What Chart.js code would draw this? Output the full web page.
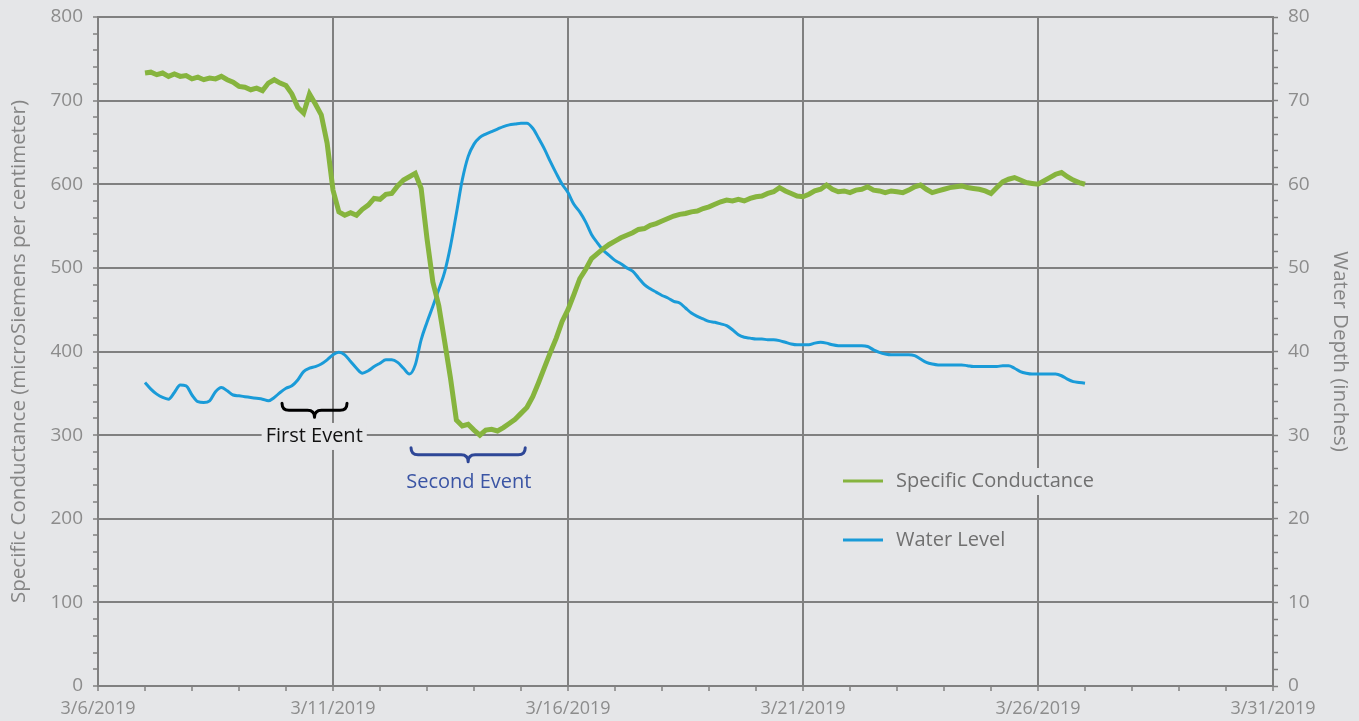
<!DOCTYPE html>
<html>
<head>
<meta charset="utf-8">
<title>Specific Conductance and Water Level, March 2019</title>
<script src="https://cdn.jsdelivr.net/npm/chart.js@4/dist/chart.umd.min.js"></script>
<style>
  html, body { margin: 0; padding: 0; background: #E5E6E8; }
  #wrap { width: 1359px; height: 721px; position: relative; }
</style>
</head>
<body>
<div id="wrap"><canvas id="chart"></canvas></div>
<script>
// Axis origin is 3/6/2019; x values are days after it.
const AXIS_START = { year: 2019, month: 3, day: 6 };
const AXIS_DAYS = 25;
const xLabelEvery = 5;

// Both records start 3/7/2019 00:00 and are logged every 3 hours.
const firstSampleDay = 1;
const sampleHours = 3;

// Specific conductance, microSiemens per centimeter
const conductance = [
  733,734,731,733,729,732,729,730,726,728,
  725,727,726,729,725,722,717,716,713,715,
  712,721,725,721,718,708,692,685,708,696,
  683,649,593,567,563,566,563,570,575,583,
  582,588,589,598,605,609,613,595,535,483,
  455,412,368,318,311,313,306,300,306,307,
  305,309,314,319,326,333,346,363,381,399,
  416,436,450,468,487,498,511,517,523,528,
  532,536,539,542,546,547,551,553,556,559,
  562,564,565,567,568,571,573,576,579,581,
  580,582,580,583,585,586,589,591,596,592,
  589,586,585,588,592,594,599,594,591,592,
  590,593,594,597,593,592,590,592,591,590,
  593,597,599,594,590,592,594,596,597,598,
  596,595,594,592,589,596,603,606,608,605,
  602,601,600,604,608,612,614,609,605,602,
  600
];

// Water depth, inches
const waterLevel = [
  36.3,35.5,34.9,34.5,34.3,35.1,36.0,35.9,34.8,34.0,
  33.9,34.1,35.2,35.7,35.3,34.8,34.7,34.6,34.5,34.4,
  34.3,34.1,34.5,35.1,35.6,35.9,36.6,37.6,38.0,38.2,
  38.5,39.0,39.6,39.9,39.6,38.8,38.0,37.4,37.7,38.2,
  38.6,39.0,39.0,38.7,38.0,37.3,38.4,41.4,43.5,45.4,
  47.4,49.5,52.6,56.5,60.5,63.3,64.8,65.6,66.0,66.3,
  66.6,66.9,67.1,67.2,67.3,67.3,66.7,65.5,64.2,62.7,
  61.3,60.0,59.0,57.6,56.7,55.5,54.0,53.0,52.1,51.5,
  50.9,50.5,50.0,49.6,48.8,48.0,47.5,47.1,46.7,46.4,
  46.0,45.8,45.2,44.6,44.2,43.9,43.6,43.5,43.3,43.1,
  42.6,42.0,41.7,41.6,41.5,41.5,41.4,41.4,41.3,41.1,
  40.9,40.8,40.8,40.8,41.0,41.1,41.0,40.8,40.7,40.7,
  40.7,40.7,40.7,40.6,40.2,39.9,39.7,39.6,39.6,39.6,
  39.6,39.5,39.1,38.7,38.5,38.4,38.4,38.4,38.4,38.4,
  38.3,38.2,38.2,38.2,38.2,38.2,38.3,38.3,38.0,37.6,
  37.4,37.3,37.3,37.3,37.3,37.3,37.1,36.7,36.4,36.3,
  36.2
];

const seriesNames = ['Specific Conductance', 'Water Level'];
const leftAxisTitle = 'Specific Conductance (microSiemens per centimeter)';
const rightAxisTitle = 'Water Depth (inches)';

// Event markers: bracket span in days, bracket top and label position on the conductance axis
const events = [
  { text: 'First Event',  from: 3.915, to: 5.298, top: 338, labelDay: 4.6,  labelValue: 299, color: '#000000', textColor: '#111111' },
  { text: 'Second Event', from: 6.66,  to: 9.09,  top: 285, labelDay: 7.89, labelValue: 244, color: '#2E4797', textColor: '#3A54A4' }
];

const BG = '#E5E6E8';
const GRID = '#808080';
const TICK_TEXT = '#8C8C8C';
const GREEN = '#86B43E';
const BLUE = '#1A9BD8';
const FONT = "'Open Sans', 'Noto Sans', sans-serif";

function sampleDay(i) { return firstSampleDay + i * sampleHours / 24; }
function dateLabel(dayOffset) {
  const d = new Date(AXIS_START.year, AXIS_START.month - 1, AXIS_START.day + dayOffset);
  return (d.getMonth() + 1) + '/' + d.getDate() + '/' + d.getFullYear();
}

const conductancePoints = conductance.map((v, i) => ({ x: sampleDay(i), y: v }));
const waterPoints = waterLevel.map((v, i) => ({ x: sampleDay(i), y: v }));

const backgroundPlugin = {
  id: 'pageBackground',
  beforeDraw(chart) {
    const ctx = chart.ctx;
    ctx.save();
    ctx.fillStyle = BG;
    ctx.fillRect(0, 0, chart.width, chart.height);
    ctx.restore();
  }
};

function drawBrace(ctx, x1, x2, y, color) {
  const xm = (x1 + x2) / 2, h = 7, r = 7;
  ctx.save();
  ctx.strokeStyle = color;
  ctx.lineWidth = 3;
  ctx.lineCap = 'round';
  ctx.lineJoin = 'round';
  ctx.beginPath();
  ctx.moveTo(x1, y);
  ctx.quadraticCurveTo(x1, y + h, x1 + r, y + h);
  ctx.lineTo(xm - r, y + h);
  ctx.quadraticCurveTo(xm, y + h, xm, y + 2 * h);
  ctx.quadraticCurveTo(xm, y + h, xm + r, y + h);
  ctx.lineTo(x2 - r, y + h);
  ctx.quadraticCurveTo(x2, y + h, x2, y);
  ctx.stroke();
  ctx.restore();
}

function boxedText(ctx, text, x, y, align, color) {
  ctx.save();
  ctx.font = '20px ' + FONT;
  const w = ctx.measureText(text).width;
  const left = align === 'center' ? x - w / 2 : x;
  ctx.fillStyle = BG;
  ctx.fillRect(left - 4, y - 13, w + 8, 27);
  ctx.fillStyle = color;
  ctx.textAlign = align;
  ctx.textBaseline = 'middle';
  ctx.fillText(text, x, y);
  ctx.restore();
}

const eventPlugin = {
  id: 'eventMarkers',
  beforeDatasetsDraw(chart) {
    const ctx = chart.ctx, xs = chart.scales.x, ys = chart.scales.y;
    events.forEach(ev => {
      drawBrace(ctx, xs.getPixelForValue(ev.from), xs.getPixelForValue(ev.to), ys.getPixelForValue(ev.top), ev.color);
      boxedText(ctx, ev.text, xs.getPixelForValue(ev.labelDay), ys.getPixelForValue(ev.labelValue), 'center', ev.textColor);
    });
  }
};

const legendPlugin = {
  id: 'insideLegend',
  afterDatasetsDraw(chart) {
    const ctx = chart.ctx, area = chart.chartArea;
    const x0 = area.left + 745, y0 = area.top + 464, gap = 59;
    chart.data.datasets.forEach((ds, i) => {
      const y = y0 + i * gap;
      ctx.save();
      ctx.strokeStyle = ds.borderColor;
      ctx.lineWidth = 3;
      ctx.beginPath();
      ctx.moveTo(x0, y);
      ctx.lineTo(x0 + 40, y);
      ctx.stroke();
      ctx.restore();
      boxedText(ctx, ds.label, x0 + 53, y, 'left', '#707070');
    });
  }
};

const gridColorEvery = (step) => (ctx) => (ctx.tick && Math.abs(ctx.tick.value % step) < 1e-9) ? GRID : 'rgba(0,0,0,0)';

// Fixed axis widths; label overflow is left to the layout padding
function fixWidth(w) {
  return (scale) => { scale.width = w; scale.paddingTop = 0; scale.paddingBottom = 0; };
}

new Chart(document.getElementById('chart'), {
  type: 'line',
  data: {
    datasets: [
      {
        label: seriesNames[0],
        data: conductancePoints,
        yAxisID: 'y',
        borderColor: GREEN,
        backgroundColor: GREEN,
        borderWidth: 5,
        pointRadius: 0,
        tension: 0
      },
      {
        label: seriesNames[1],
        data: waterPoints,
        yAxisID: 'y2',
        borderColor: BLUE,
        backgroundColor: BLUE,
        borderWidth: 3,
        pointRadius: 0,
        cubicInterpolationMode: 'monotone'
      }
    ]
  },
  options: {
    responsive: true,
    maintainAspectRatio: false,
    devicePixelRatio: 1,
    animation: false,
    layout: { padding: { top: 17, left: 0, right: 0, bottom: 0 } },
    plugins: {
      legend: { display: false },
      tooltip: { enabled: false }
    },
    scales: {
      x: {
        type: 'linear',
        min: 0,
        max: AXIS_DAYS,
        afterFit(scale) { scale.height = 35; },
        border: { color: GRID, width: 2 },
        grid: { color: gridColorEvery(xLabelEvery), tickColor: GRID, lineWidth: 2, tickWidth: 1.5, tickLength: 5 },
        ticks: {
          stepSize: 1,
          autoSkip: false,
          maxRotation: 0,
          padding: 7,
          color: TICK_TEXT,
          font: { family: FONT, size: 18 },
          callback: (v) => (v % xLabelEvery === 0 ? dateLabel(v) : '')
        }
      },
      y: {
        position: 'left',
        min: 0,
        max: 800,
        afterFit: fixWidth(98),
        border: { color: GRID, width: 2 },
        grid: { color: gridColorEvery(100), tickColor: GRID, lineWidth: 2, tickWidth: 1.5, tickLength: 5 },
        ticks: {
          stepSize: 20,
          autoSkip: false,
          padding: 10,
          color: TICK_TEXT,
          font: { family: FONT, size: 19 },
          callback: (v) => (v % 100 === 0 ? v : '')
        },
        title: {
          display: true,
          text: leftAxisTitle,
          color: '#858585',
          font: { family: FONT, size: 20.5 },
          padding: { top: 7, bottom: 0 }
        }
      },
      y2: {
        position: 'right',
        min: 0,
        max: 80,
        afterFit: fixWidth(86),
        border: { color: GRID, width: 2 },
        grid: { drawOnChartArea: false, tickColor: GRID, tickWidth: 1.5, tickLength: 5 },
        ticks: {
          stepSize: 2,
          autoSkip: false,
          padding: 10,
          color: TICK_TEXT,
          font: { family: FONT, size: 19 },
          callback: (v) => (v % 10 === 0 ? v : '')
        },
        title: {
          display: true,
          text: rightAxisTitle,
          color: '#858585',
          font: { family: FONT, size: 20.5 },
          padding: { top: 7, bottom: 0 }
        }
      }
    }
  },
  plugins: [backgroundPlugin, eventPlugin, legendPlugin]
});
</script>
</body>
</html>
